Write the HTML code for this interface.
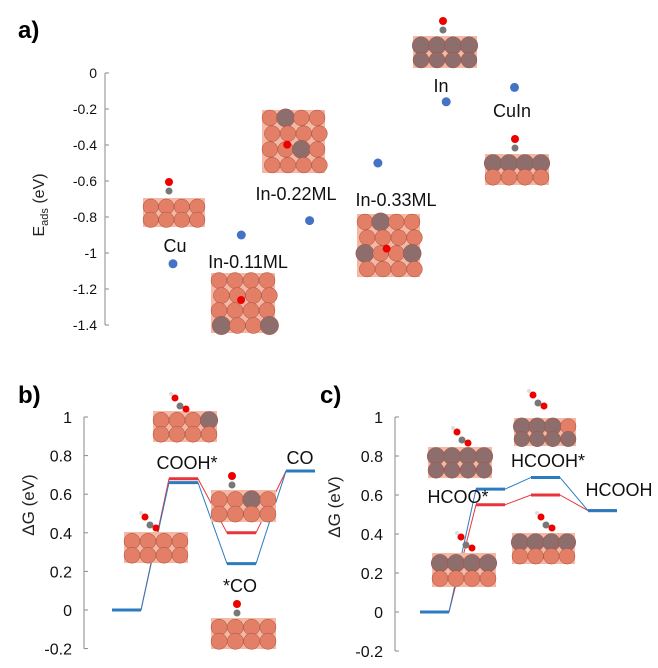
<!DOCTYPE html>
<html><head><meta charset="utf-8"><style>
body{margin:0;background:#fff;}
svg{display:block;font-family:"Liberation Sans",Arial,sans-serif;}
</style></head><body>
<svg id="fig" width="658" height="668" viewBox="0 0 658 668">
<text x="18" y="38" font-size="24" font-weight="bold">a)</text>
<text x="18" y="403" font-size="24" font-weight="bold">b)</text>
<text x="320" y="403" font-size="24" font-weight="bold">c)</text>
<text transform="translate(44,205) rotate(-90)" text-anchor="middle" font-size="16" fill="#222">E<tspan font-size="11" dy="4">ads</tspan><tspan dy="-4"> (eV)</tspan></text>
<text transform="translate(34,505) rotate(-90)" text-anchor="middle" font-size="17" fill="#222">ΔG (eV)</text>
<text transform="translate(340,507) rotate(-90)" text-anchor="middle" font-size="17" fill="#222">ΔG (eV)</text>
<g id="g"></g>
</svg>
<script>
// Panel a data
const aCategories=["Cu","In-0.11ML","In-0.22ML","In-0.33ML","In","CuIn"];
const aValues=[-1.06,-0.9,-0.82,-0.5,-0.16,-0.08];
const aTicks=[0,-0.2,-0.4,-0.6,-0.8,-1,-1.2,-1.4];
// Panel b data (COOH pathway)
const bStates=["start","COOH*","*CO","CO"];
const bBlue=[0,0.66,0.24,0.72];
const bRed=[0,0.68,0.40,0.72];
const bTicks=[1,0.8,0.6,0.4,0.2,0,-0.2];
// Panel c data (HCOO pathway)
const cStates=["start","HCOO*","HCOOH*","HCOOH"];
const cBlue=[0,0.63,0.69,0.52];
const cRed=[0,0.55,0.60,0.52];
const cTicks=[1,0.8,0.6,0.4,0.2,0,-0.2];

const NS="http://www.w3.org/2000/svg";
const G=document.getElementById('g');
function el(t,a,p){const e=document.createElementNS(NS,t);for(const k in a)e.setAttribute(k,a[k]);(p||G).appendChild(e);return e;}
function tx(x,y,s,fs,anch,name){const e=el('text',{x:x,y:y,'font-size':fs,'text-anchor':anch||'middle',fill:'#111'});e.textContent=s;

return e;}

// axis functions
const ay=v=>73+(0-v)/0.2*36;
const ax=i=>173+i*68.3;
const by=v=>610-v/0.2*38.6;
const cy=v=>612-v/0.2*39;

// panel a axis
let l=el('line',{x1:105,y1:ay(0),x2:105,y2:ay(-1.4),stroke:'#888','stroke-width':1});


aTicks.forEach(t=>{el('line',{x1:105,x2:109,y1:ay(t),y2:ay(t),stroke:'#888'});
 tx(97,ay(t)+5,String(t),14,'end','a-y-tick');});

// slab drawing
function slab(x,y,w,h,kind,name){
 const g=el('g',{});
 
 
 const cu='#e27f66',inn='#8e6d6d';
 el('rect',{x:x,y:y,width:w,height:h,fill:'#f4b8a4'},g);
 if(kind.type==='top'){
  const n=4,r=w/n/2;
  for(let i=0;i<n;i++)for(let j=0;j<n;j++){
   const id=i*n+j;const c=kind.in.includes(id)?inn:cu;
   const rr=kind.in.includes(id)?r*1.15:r;
   el('circle',{cx:x+r+j*2*r+(i%2?r*0.3:0),cy:y+h/n/2+i*h/n,r:rr,fill:c,stroke:'#a85040','stroke-width':0.5},g);
  }
  el('circle',{cx:x+kind.o[0]*w,cy:y+kind.o[1]*h,r:4,fill:'#e00'},g);
 } else {
  const n=4,r=w/n/2;
  for(let row=0;row<2;row++)for(let j=0;j<n;j++){
   const c=(row===0?kind.top:kind.bot)[j]?inn:cu;
   el('circle',{cx:x+r+j*2*r,cy:y+h*(row===0?0.3:0.75),r:row===0&&c===inn?r*1.1:r,fill:c,stroke:'#a85040','stroke-width':0.5},g);
  }
  if(kind.ads){const[axx,ayy,type]=kind.ads;
   if(type==='CO'){el('circle',{cx:axx,cy:ayy,r:3.5,fill:'#777'},g);el('circle',{cx:axx,cy:ayy-9,r:4,fill:'#e00'},g);}
   else{el('circle',{cx:axx,cy:ayy,r:3.5,fill:'#777'},g);el('circle',{cx:axx-5,cy:ayy-8,r:3.5,fill:'#e00'},g);el('circle',{cx:axx+6,cy:ayy+3,r:3.5,fill:'#e00'},g);el('circle',{cx:axx-9,cy:ayy-12,r:2,fill:'#ddd'},g);}
  }
 }
}
const F=[0,0,0,0],I=[1,1,1,1];
slab(143,198,62,29,{top:F,bot:F,ads:[169,191,'CO']},'cu-structure');
slab(211,273,64,60,{type:'top',in:[15,12],o:[0.47,0.45]},'in011-structure');
slab(262,110,63,63,{type:'top',in:[1,10],o:[0.4,0.55]},'in022-structure');
slab(357,214,63,63,{type:'top',in:[1,8,11],o:[0.47,0.55]},'in033-structure');
slab(413,36,64,32,{top:I,bot:I,ads:[443,30,'CO']},'in-structure');
slab(485,154,64,31,{top:I,bot:F,ads:[515,148,'CO']},'cuin-structure');

aValues.forEach((v,i)=>{const c=el('circle',{cx:ax(i),cy:ay(v),r:4.5,fill:'#4472c4'});

});
tx(175,252,"Cu",18,'middle','label-cu');
tx(248,268,"In-0.11ML",18,'middle','label-in011');
tx(296,200,"In-0.22ML",18,'middle','label-in022');
tx(396,206,"In-0.33ML",18,'middle','label-in033');
tx(441,92,"In",18,'middle','label-in');
tx(512,117,"CuIn",18,'middle','label-cuin');

// panel b/c axes
function axis(x,yf,ticks,name){
 const a=el('line',{x1:x,y1:yf(ticks[0]),x2:x,y2:yf(ticks[ticks.length-1]),stroke:'#888'});
 
 
 ticks.forEach(t=>{el('line',{x1:x,x2:x+4,y1:yf(t),y2:yf(t),stroke:'#888'});tx(x-12,yf(t)+6,String(t),16,'end',name+'-tick');});
}
axis(84,by,bTicks,'b-y-axis');
axis(395,cy,cTicks,'c-y-axis');

function levels(xs,w,vals,yf,color,name,thick){
 let pts=[];
 vals.forEach((v,i)=>{pts.push([xs[i],yf(v)],[xs[i]+w,yf(v)]);});
 const p=el('polyline',{points:pts.map(q=>q.join(',')).join(' '),fill:'none',stroke:color,'stroke-width':1});
 
 
 vals.forEach((v,i)=>{const s=el('line',{x1:xs[i],x2:xs[i]+w,y1:yf(v),y2:yf(v),stroke:color,'stroke-width':3});
 
 });
}
const bx=[112,169,227,286], cx=[420,476,531,588];
levels(bx,29,bRed,by,'#e8343a','b-red');
levels(bx,29,bBlue,by,'#2b7bc0','b-blue');
levels(cx,29,cRed,cy,'#e8343a','c-red');
levels(cx,29,cBlue,cy,'#2b7bc0','c-blue');

slab(153,411,64,31,{top:[0,0,0,1],bot:F,ads:[180,406,'COOH']},'b-cooh-structure');
slab(124,532,64,31,{top:F,bot:F,ads:[150,525,'COOH']},'b-cooh-cu-structure');
slab(211,490,65,32,{top:[0,0,1,0],bot:F,ads:[232,485,'CO']},'b-co-cuin-structure');
slab(211,618,65,31,{top:F,bot:F,ads:[237,613,'CO']},'b-co-cu-structure');
slab(428,447,64,31,{top:I,bot:I,ads:[462,440,'COOH']},'c-hcoo-in-structure');
slab(514,418,62,28,{top:[1,1,1,0],bot:I,ads:[538,403,'COOH']},'c-hcooh-in-structure');
slab(432,553,64,34,{top:I,bot:F,ads:[466,545,'COOH']},'c-hcoo-cuin-structure');
slab(512,533,63,31,{top:I,bot:F,ads:[546,525,'COOH']},'c-hcooh-cuin-structure');

tx(187,469,"COOH*",18,'middle','label-cooh');
tx(300,464,"CO",18,'middle','label-co');
tx(240,592,"*CO",18,'middle','label-star-co');
tx(548,467,"HCOOH*",18,'middle','label-hcooh-star');
tx(458,503,"HCOO*",18,'middle','label-hcoo-star');
tx(619,496,"HCOOH",18,'middle','label-hcooh');
</script>
</body></html>
